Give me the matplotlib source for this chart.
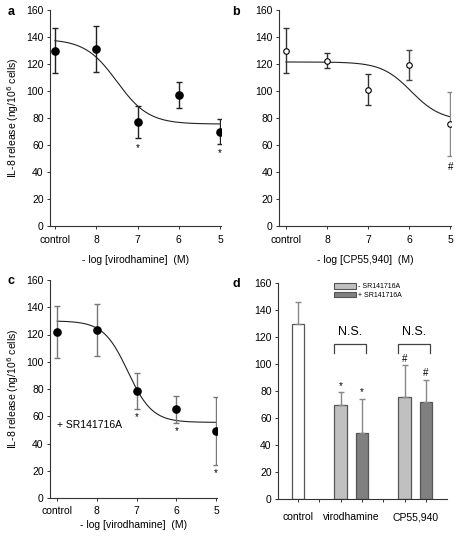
import numpy as np
import matplotlib
matplotlib.use("Agg")
import matplotlib.pyplot as plt
from matplotlib.patches import Patch

plt.rcParams['font.family'] = ['Liberation Sans', 'DejaVu Sans']
plt.rcParams['font.size'] = 7.5

# ---------------- data ----------------
dose_labels = ['control', '8', '7', '6', '5']
dose_pos = [9, 8, 7, 6, 5]   # -log[M]; control drawn at position 9

# panel a: virodhamine
a_mean = [130, 131, 77, 97, 70]
a_err = [17, 17, 12, 9.5, 9]
a_fit = dict(top=138.5, bottom=75.5, x50=7.5, hill=1.13)
a_marks = {7: '*', 5: '*'}

# panel b: CP55,940
b_mean = [130, 122.5, 101, 119.5, 75.5]
b_err = [17, 5.5, 11.5, 11, 23.5]
b_fit = dict(top=121.5, bottom=78, x50=5.95, hill=1.2)
b_marks = {5: '#'}

# panel c: virodhamine + SR141716A
c_mean = [122, 123.5, 78.5, 65, 49]
c_err = [19, 19, 13, 10, 25]
c_fit = dict(top=130, bottom=55.5, x50=7.22, hill=1.42)
c_marks = {7: '*', 6: '*', 5: '*'}

# panel d: bars
d_groups = ['control', 'virodhamine', 'CP55,940']
d_control = 130
d_control_err = 16
d_minus_sr = [70, 75.5]      # virodhamine, CP55,940 (- SR141716A)
d_minus_sr_err = [9, 23.5]
d_plus_sr = [49, 72]         # virodhamine, CP55,940 (+ SR141716A)
d_plus_sr_err = [25, 16.5]
d_minus_marks = ['*', '#']
d_plus_marks = ['*', '#']
legend_labels = ['- SR141716A', '+ SR141716A']

yticks = [0, 20, 40, 60, 80, 100, 120, 140, 160]

W, H = 459, 540
fig = plt.figure(figsize=(W / 100, H / 100), dpi=100)


def ax_px(left, top, right, bottom):
    return fig.add_axes([left / W, 1 - bottom / H, (right - left) / W, (bottom - top) / H])


def hill(x, top, bottom, x50, hill):
    return bottom + (top - bottom) / (1 + 10 ** (hill * (x50 - x)))


def style(ax):
    for s in ['top', 'right']:
        ax.spines[s].set_visible(False)
    for s in ['left', 'bottom']:
        ax.spines[s].set_color('#333333')
        ax.spines[s].set_linewidth(0.8)
    ax.tick_params(direction='out', length=2.5, width=0.7, color='#333333', labelsize=7.5, pad=2)
    ax.set_ylim(0, 160)
    ax.set_yticks(yticks)


def dose_panel(ax, mean, err, fit, marks, xl, filled, ecolors, star_off, xlabel, xpad, lpad):
    style(ax)
    xs = np.linspace(9, 5, 300)
    ax.plot(xs, hill(xs, **fit), color='#222222', lw=0.8, zorder=2)
    for x, m, e, ec in zip(dose_pos, mean, err, ecolors):
        ax.errorbar(x, m, yerr=e, fmt='none', ecolor=ec, elinewidth=1.0, capsize=2.3, capthick=1.0, zorder=3)
    if filled:
        ax.plot(dose_pos, mean, 'o', ms=5.2, color='black', zorder=4, linestyle='none')
    else:
        ax.plot(dose_pos, mean, 'o', ms=4, mfc='white', mec='black', mew=0.8, zorder=4, linestyle='none')
    for x, s in marks.items():
        i = dose_pos.index(x)
        ax.text(x, mean[i] - err[i] - star_off, s, ha='center', va='center', fontsize=7)
    ax.set_xlim(*xl)
    ax.set_xticks(dose_pos)
    ax.set_xticklabels(dose_labels)
    ax.tick_params(axis='x', pad=xpad)
    ax.set_xlabel(xlabel, fontsize=7.5, labelpad=lpad)


ax_a = ax_px(50, 10, 221, 226)
dose_panel(ax_a, a_mean, a_err, a_fit, a_marks, (9.12, 4.98), True, ['#222222'] * 5, 7,
           '- log [virodhamine]  (M)', 4, 7)
ax_a.set_ylabel('IL-8 release (ng/10$^6$ cells)', fontsize=7.5, labelpad=4)

ax_b = ax_px(279, 10, 451, 226)
dose_panel(ax_b, b_mean, b_err, b_fit, b_marks, (9.17, 4.98), False,
           ['#333333', '#333333', '#333333', '#444444', '#888888'], 8,
           '- log [CP55,940]  (M)', 4, 7)

ax_c = ax_px(50, 280, 217, 498)
dose_panel(ax_c, c_mean, c_err, c_fit, c_marks, (9.18, 4.98), True, ['#777777'] * 5, 6,
           '- log [virodhamine]  (M)', 3, 3)
ax_c.set_ylabel('IL-8 release (ng/10$^6$ cells)', fontsize=7.5, labelpad=4)
ax_c.text(9, 53.5, '+ SR141716A', ha='left', va='center', fontsize=7.5)

# panel d
ax_d = ax_px(278, 283, 447, 499)
style(ax_d)
bw = 0.58
edge = '#555555'
ekw = dict(ecolor='#888888', elinewidth=1.0, capsize=2.3, capthick=1.0)
ax_d.bar([0], [d_control], bw, color='white', edgecolor=edge, lw=0.9,
         yerr=[[0], [d_control_err]], error_kw=ekw, zorder=2)
pos_minus = [2, 5]
pos_plus = [3, 6]
ax_d.bar(pos_minus, d_minus_sr, bw, color='#c0c0c0', edgecolor=edge, lw=0.9,
         yerr=[[0, 0], d_minus_sr_err], error_kw=ekw, zorder=2)
ax_d.bar(pos_plus, d_plus_sr, bw, color='#808080', edgecolor=edge, lw=0.9,
         yerr=[[0, 0], d_plus_sr_err], error_kw=ekw, zorder=2)
for p, m, e, s in zip(pos_minus, d_minus_sr, d_minus_sr_err, d_minus_marks):
    ax_d.text(p, m + e + 5, s, ha='center', va='center', fontsize=7)
for p, m, e, s in zip(pos_plus, d_plus_sr, d_plus_sr_err, d_plus_marks):
    ax_d.text(p, m + e + 5, s, ha='center', va='center', fontsize=7)
# N.S. brackets
for p1, p2 in zip(pos_minus, pos_plus):
    ax_d.plot([p1 - 0.3, p1 - 0.3, p2 + 0.2, p2 + 0.2], [108, 115, 115, 108], color='#444444', lw=0.9)
    ax_d.text((p1 + p2) / 2 - 0.05, 119, 'N.S.', ha='center', va='bottom', fontsize=9)
ax_d.set_xlim(-0.94, 6.99)
ax_d.set_xticks(range(7))
ax_d.set_xticklabels([''] * 7)
for p, lab in zip([0, 2.5, 5.5], d_groups):
    ax_d.text(p, -0.085, lab, transform=ax_d.get_xaxis_transform(), ha='center', va='center', fontsize=7.5)
handles = [Patch(facecolor='#c0c0c0', edgecolor=edge, lw=0.8),
           Patch(facecolor='#808080', edgecolor=edge, lw=0.8)]
ax_d.legend(handles, legend_labels, loc='upper left', bbox_to_anchor=(0.33, 1.0), frameon=False,
            fontsize=5, handlelength=3.2, handleheight=0.85, labelspacing=0.2, handletextpad=0.3,
            borderaxespad=0, borderpad=0)

# panel letters
for lab, x, y in [('a', 11, 12), ('b', 236, 12), ('c', 11, 281), ('d', 236, 284)]:
    fig.text(x / W, 1 - y / H, lab, ha='center', va='center', fontsize=9, fontweight='bold')

fig.savefig('out.png', dpi=100)
